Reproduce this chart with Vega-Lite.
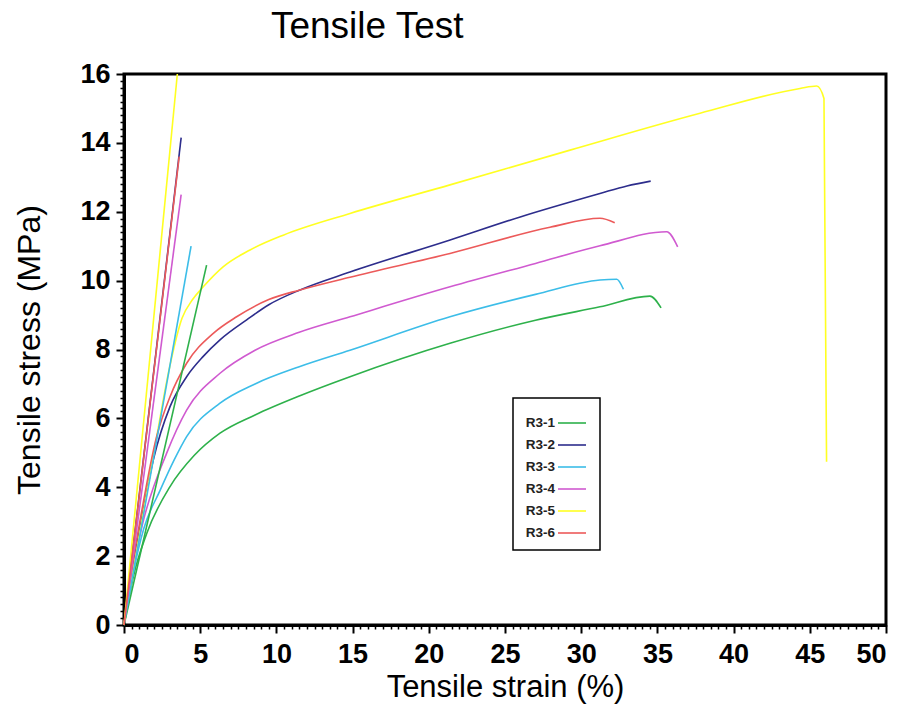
{
  "$schema": "https://vega.github.io/schema/vega-lite/v6.json",
  "width": 762,
  "height": 551,
  "autosize": {"type": "none"},
  "padding": {"left": 124, "top": 74, "right": 23, "bottom": 96},
  "title": {"text": "Tensile Test", "fontSize": 37, "fontWeight": "normal", "font": "Liberation Sans", "anchor": "start", "dx": 257, "offset": 14, "color": "black"},
  "config": {
    "view": {"stroke": "black", "strokeWidth": 3},
    "font": "Liberation Sans"
  },
  "datasets": {
    "curves": [
      {"s": 0, "t": 0, "series": "R3-1"}, {"s": 0.61, "t": 1.4, "series": "R3-1"}, {"s": 1.49, "t": 2.66, "series": "R3-1"}, {"s": 3.02, "t": 4.02, "series": "R3-1"}, {"s": 4.6, "t": 4.92, "series": "R3-1"}, {"s": 6.3, "t": 5.57, "series": "R3-1"}, {"s": 8.6, "t": 6.1, "series": "R3-1"}, {"s": 11.5, "t": 6.65, "series": "R3-1"}, {"s": 14.83, "t": 7.21, "series": "R3-1"}, {"s": 21.39, "t": 8.18, "series": "R3-1"}, {"s": 27, "t": 8.85, "series": "R3-1"}, {"s": 31.23, "t": 9.24, "series": "R3-1"}, {"s": 34.51, "t": 9.55, "series": "R3-1"}, {"s": 35.24, "t": 9.21, "series": "R3-1"},
      {"s": 0, "t": 0, "series": "R3-2"}, {"s": 0.5, "t": 1.5, "series": "R3-2"}, {"s": 1.0, "t": 2.7, "series": "R3-2"}, {"s": 1.92, "t": 4.79, "series": "R3-2"}, {"s": 3.02, "t": 6.34, "series": "R3-2"}, {"s": 4.11, "t": 7.21, "series": "R3-2"}, {"s": 5.2, "t": 7.8, "series": "R3-2"}, {"s": 6.3, "t": 8.28, "series": "R3-2"}, {"s": 8.05, "t": 8.86, "series": "R3-2"}, {"s": 9.5, "t": 9.3, "series": "R3-2"}, {"s": 11.55, "t": 9.73, "series": "R3-2"}, {"s": 14.83, "t": 10.25, "series": "R3-2"}, {"s": 21.4, "t": 11.18, "series": "R3-2"}, {"s": 26, "t": 11.85, "series": "R3-2"}, {"s": 31.23, "t": 12.53, "series": "R3-2"}, {"s": 33, "t": 12.75, "series": "R3-2"}, {"s": 34.56, "t": 12.89, "series": "R3-2"},
      {"s": 0, "t": 0, "series": "R3-3"}, {"s": 0.6, "t": 1.5, "series": "R3-3"}, {"s": 1.3, "t": 2.8, "series": "R3-3"}, {"s": 2.36, "t": 3.9, "series": "R3-3"}, {"s": 3.3, "t": 4.8, "series": "R3-3"}, {"s": 4.11, "t": 5.47, "series": "R3-3"}, {"s": 6.3, "t": 6.44, "series": "R3-3"}, {"s": 8.6, "t": 7.0, "series": "R3-3"}, {"s": 11.5, "t": 7.5, "series": "R3-3"}, {"s": 14.83, "t": 7.98, "series": "R3-3"}, {"s": 21.39, "t": 8.95, "series": "R3-3"}, {"s": 27, "t": 9.6, "series": "R3-3"}, {"s": 31.23, "t": 10.02, "series": "R3-3"}, {"s": 32.33, "t": 10.04, "series": "R3-3"}, {"s": 32.77, "t": 9.75, "series": "R3-3"},
      {"s": 0, "t": 0, "series": "R3-4"}, {"s": 0.5, "t": 1.4, "series": "R3-4"}, {"s": 1.2, "t": 2.9, "series": "R3-4"}, {"s": 2.8, "t": 4.99, "series": "R3-4"}, {"s": 4.11, "t": 6.24, "series": "R3-4"}, {"s": 6.3, "t": 7.31, "series": "R3-4"}, {"s": 8.6, "t": 7.98, "series": "R3-4"}, {"s": 11.5, "t": 8.5, "series": "R3-4"}, {"s": 14.83, "t": 8.95, "series": "R3-4"}, {"s": 21.39, "t": 9.82, "series": "R3-4"}, {"s": 27, "t": 10.5, "series": "R3-4"}, {"s": 31.23, "t": 11.01, "series": "R3-4"}, {"s": 35.61, "t": 11.42, "series": "R3-4"}, {"s": 36.33, "t": 10.98, "series": "R3-4"},
      {"s": 0, "t": 0, "series": "R3-5"}, {"s": 1, "t": 2.6, "series": "R3-5"}, {"s": 2, "t": 5.1, "series": "R3-5"}, {"s": 3, "t": 7.5, "series": "R3-5"}, {"s": 3.8, "t": 8.9, "series": "R3-5"}, {"s": 4.5, "t": 9.45, "series": "R3-5"}, {"s": 5.2, "t": 9.82, "series": "R3-5"}, {"s": 6.5, "t": 10.4, "series": "R3-5"}, {"s": 8.27, "t": 10.89, "series": "R3-5"}, {"s": 10.45, "t": 11.32, "series": "R3-5"}, {"s": 14.83, "t": 11.95, "series": "R3-5"}, {"s": 21.39, "t": 12.78, "series": "R3-5"}, {"s": 29.27, "t": 13.79, "series": "R3-5"}, {"s": 37.8, "t": 14.86, "series": "R3-5"}, {"s": 44.36, "t": 15.58, "series": "R3-5"}, {"s": 45.45, "t": 15.65, "series": "R3-5"}, {"s": 45.93, "t": 15.29, "series": "R3-5"}, {"s": 46.1, "t": 4.74, "series": "R3-5"},
      {"s": 0, "t": 0, "series": "R3-6"}, {"s": 0.5, "t": 1.6, "series": "R3-6"}, {"s": 1.0, "t": 2.9, "series": "R3-6"}, {"s": 2.14, "t": 5.47, "series": "R3-6"}, {"s": 3.02, "t": 6.63, "series": "R3-6"}, {"s": 4.11, "t": 7.6, "series": "R3-6"}, {"s": 5.86, "t": 8.47, "series": "R3-6"}, {"s": 7.39, "t": 8.95, "series": "R3-6"}, {"s": 9.5, "t": 9.45, "series": "R3-6"}, {"s": 11.55, "t": 9.73, "series": "R3-6"}, {"s": 14.83, "t": 10.1, "series": "R3-6"}, {"s": 21.39, "t": 10.79, "series": "R3-6"}, {"s": 27.95, "t": 11.55, "series": "R3-6"}, {"s": 31.23, "t": 11.81, "series": "R3-6"}, {"s": 32.2, "t": 11.68, "series": "R3-6"}
    ],
    "elastic": [
      {"s": 0, "t": 0, "series": "R3-1"}, {"s": 5.42, "t": 10.45, "series": "R3-1"},
      {"s": 0, "t": 0, "series": "R3-2"}, {"s": 3.75, "t": 14.15, "series": "R3-2"},
      {"s": 0, "t": 0, "series": "R3-3"}, {"s": 4.4, "t": 11.0, "series": "R3-3"},
      {"s": 0, "t": 0, "series": "R3-4"}, {"s": 3.75, "t": 12.5, "series": "R3-4"},
      {"s": 0, "t": 0, "series": "R3-5"}, {"s": 3.5, "t": 16, "series": "R3-5"},
      {"s": 0, "t": 0, "series": "R3-6"}, {"s": 3.62, "t": 13.6, "series": "R3-6"}
    ]
  },
  "layer": [
    {
      "data": {"name": "curves"},
      "mark": {"type": "line", "strokeWidth": 1.6, "interpolate": "monotone"},
      "encoding": {
        "x": {"field": "s", "type": "quantitative", "scale": {"domain": [0, 50], "nice": false, "zero": false},
          "axis": {"orient": "bottom", "values": [0, 5, 10, 15, 20, 25, 30, 35, 40, 45, 50], "grid": false, "domainColor": "black", "domainWidth": 3, "tickColor": "black", "tickWidth": 2, "tickSize": 8, "labelFontSize": 27, "labelFontWeight": "bold", "labelColor": "black", "labelPadding": 8, "title": "Tensile strain (%)", "titleFontSize": 31, "titleFontWeight": "normal", "titleColor": "black", "titlePadding": 5}},
        "y": {"field": "t", "type": "quantitative", "scale": {"domain": [0, 16], "nice": false, "zero": false},
          "axis": {"orient": "left", "values": [0, 2, 4, 6, 8, 10, 12, 14, 16], "grid": false, "domainColor": "black", "domainWidth": 3, "tickColor": "black", "tickWidth": 2, "tickSize": 8, "labelFontSize": 27, "labelFontWeight": "bold", "labelColor": "black", "labelPadding": 6, "title": "Tensile stress (MPa)", "titleFontSize": 32, "titleFontWeight": "normal", "titleColor": "black", "titlePadding": 33}},
        "color": {"field": "series", "type": "nominal",
          "scale": {"domain": ["R3-1", "R3-2", "R3-3", "R3-4", "R3-5", "R3-6"], "range": ["#2eb14b", "#2d2d8c", "#3cbde8", "#d05ad0", "#ffff22", "#ec5a5a"]},
          "legend": {"orient": "none", "legendX": 389, "legendY": 324, "title": " ", "titleOrient": "left", "titleFontSize": 12, "titlePadding": 34, "strokeColor": "black", "padding": 10, "labelFontSize": 13.5, "labelFontWeight": "bold", "labelColor": "#222222", "symbolType": "stroke", "symbolSize": 784, "symbolStrokeWidth": 1.6, "rowPadding": -10, "labelAlign": "right", "labelOffset": -32,
            "encode": {"legend": {"update": {"strokeWidth": {"value": 1.5}}}}}}
      }
    },
    {
      "data": {"name": "elastic"},
      "mark": {"type": "line", "strokeWidth": 1.6},
      "encoding": {
        "x": {"field": "s", "type": "quantitative",
          "axis": {"orient": "bottom", "values": [0.5,1,1.5,2,2.5,3,3.5,4,4.5,5.5,6,6.5,7,7.5,8,8.5,9,9.5,10.5,11,11.5,12,12.5,13,13.5,14,14.5,15.5,16,16.5,17,17.5,18,18.5,19,19.5,20.5,21,21.5,22,22.5,23,23.5,24,24.5,25.5,26,26.5,27,27.5,28,28.5,29,29.5,30.5,31,31.5,32,32.5,33,33.5,34,34.5,35.5,36,36.5,37,37.5,38,38.5,39,39.5,40.5,41,41.5,42,42.5,43,43.5,44,44.5,45.5,46,46.5,47,47.5,48,48.5,49,49.5], "grid": false, "domain": false, "labels": false, "title": null, "tickColor": "black", "tickWidth": 1.5, "tickSize": 4}},
        "y": {"field": "t", "type": "quantitative",
          "axis": {"orient": "left", "values": [0.2,0.4,0.6,0.8,1,1.2,1.4,1.6,1.8,2.2,2.4,2.6,2.8,3,3.2,3.4,3.6,3.8,4.2,4.4,4.6,4.8,5,5.2,5.4,5.6,5.8,6.2,6.4,6.6,6.8,7,7.2,7.4,7.6,7.8,8.2,8.4,8.6,8.8,9,9.2,9.4,9.6,9.8,10.2,10.4,10.6,10.8,11,11.2,11.4,11.6,11.8,12.2,12.4,12.6,12.8,13,13.2,13.4,13.6,13.8,14.2,14.4,14.6,14.8,15,15.2,15.4,15.6,15.8], "grid": false, "domain": false, "labels": false, "title": null, "tickColor": "black", "tickWidth": 1.5, "tickSize": 4}},
        "color": {"field": "series", "type": "nominal"}
      }
    }
  ],
  "resolve": {"axis": {"x": "independent", "y": "independent"}}
}
